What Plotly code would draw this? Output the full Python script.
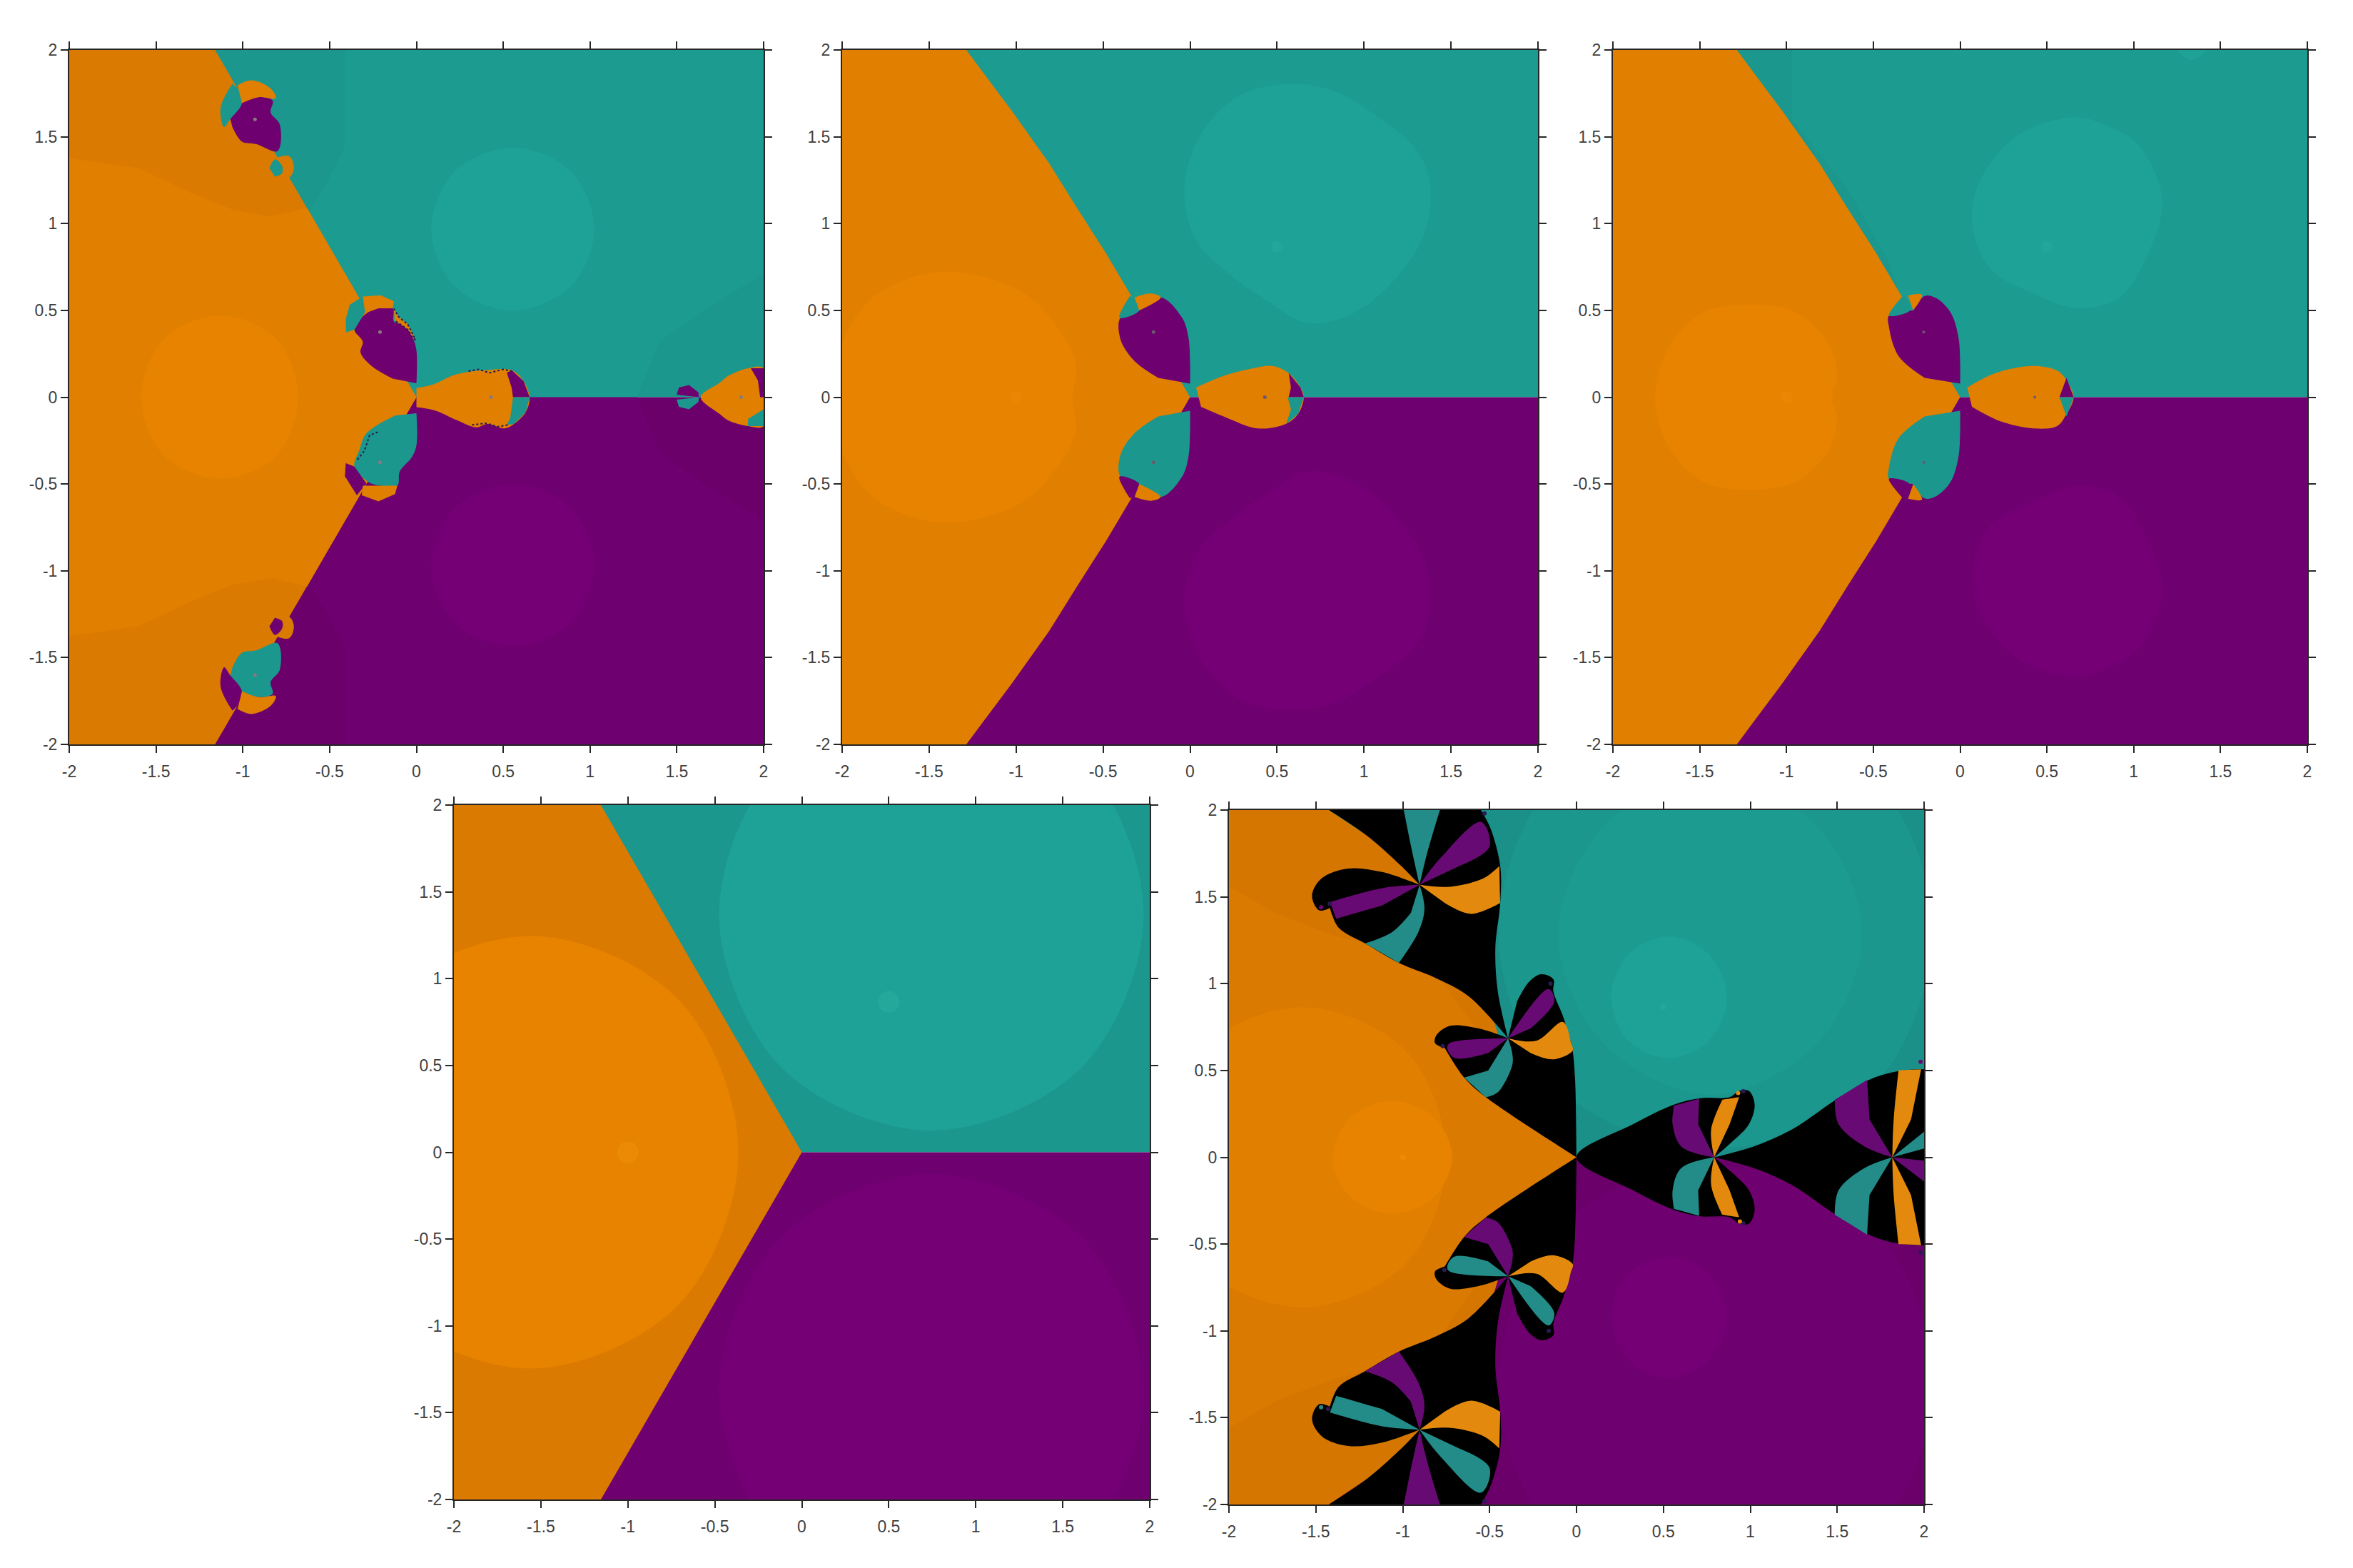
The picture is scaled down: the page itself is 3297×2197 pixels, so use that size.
import plotly.graph_objects as go

W, H = 3297, 2197
# pixel boxes of the five panels: left, right, top, bottom
boxes = [(97, 1070, 70, 1043), (1180, 2155, 70, 1043), (2260, 3233, 70, 1043),
         (636, 1611, 1128, 2101), (1722, 2696, 1135, 2108)]
tick_vals = [-2, -1.5, -1, -0.5, 0, 0.5, 1, 1.5, 2]
tick_text = ["-2", "-1.5", "-1", "-0.5", "0", "0.5", "1", "1.5", "2"]

ORANGE_X = "#D47600"
ORANGE_D = "#DB7A00"
ORANGE_M = "#E07F00"
ORANGE_L = "#E88300"
TEAL_D = "#1A9088"
TEAL_B = "#1B978D"
TEAL_M = "#1C9B91"
TEAL_L = "#1EA298"
PURPLE_D = "#6B006B"
PURPLE_M = "#6F006F"
PURPLE_L = "#750076"
PETAL_TEAL = "#238B88"
PETAL_PURPLE = "#680A74"
PETAL_ORANGE = "#E38A0E"
DARK = "#2A1A50"

upper_half = ([-2, 2, 2, -2], [0, 0, 2, 2])
lower_half = ([-2, 2, 2, -2], [0, 0, -2, -2])

# panel 1
p1_orange = ([-2, -1.16, -0.346, 0], [2, 2, 0.6, 0.0])
p1_orange_mid = ([-2, -1.6, -1.33, -1.06, -0.84, -0.63, 0], [1.376, 1.32, 1.19, 1.08, 1.04, 1.09, 0])
p1_orange_disc = ([-1.587, -1.45, -1.13, -0.81, -0.68], [0, 0.34, 0.47, 0.34, 0])
p1_teal_mid = ([-0.41, 2, 2, 1.67, 1.4, 1.27, 0, -0.62, -0.52, -0.41],
               [2, 2, 0.71, 0.51, 0.32, 0, 0, 1.07, 1.23, 1.45])
p1_teal_disc = ([0.085, 0.22, 0.555, 0.89, 1.025, 0.89, 0.555, 0.22],
                [0.97, 1.3, 1.437, 1.3, 0.97, 0.64, 0.5, 0.64])
p1_bulb_purple = ([0, 0, -0.02, -0.048, -0.096, -0.13, -0.137, -0.219, -0.295, -0.357, -0.309, -0.322, -0.261, -0.137],
                  [0.08, 0.27, 0.34, 0.388, 0.422, 0.436, 0.512, 0.512, 0.477, 0.388, 0.32, 0.258, 0.182, 0.107])
p1_bulb_teal_patch = ([-0.407, -0.384, -0.309, -0.295, -0.357, -0.405], [0.45, 0.532, 0.58, 0.491, 0.388, 0.374])
p1_bulb_cap = ([-0.309, -0.206, -0.13, -0.137, -0.219, -0.295], [0.58, 0.587, 0.553, 0.512, 0.512, 0.484])
p1_bulb_jag = ([-0.13, -0.1, -0.05, -0.005, -0.02, -0.048, -0.096, -0.125], [0.51, 0.46, 0.42, 0.33, 0.34, 0.388, 0.422, 0.44])
p1_low_teal = ([0, 0, -0.027, -0.096, -0.11, -0.206, -0.274, -0.357, -0.329, -0.288, -0.123],
               [-0.092, -0.277, -0.346, -0.428, -0.51, -0.51, -0.49, -0.40, -0.305, -0.209, -0.106])
p1_low_purple = ([-0.407, -0.412, -0.343, -0.288, -0.357], [-0.38, -0.455, -0.565, -0.497, -0.40])
p1_low_cap = ([-0.309, -0.11, -0.123, -0.219, -0.315], [-0.51, -0.51, -0.558, -0.6, -0.565])
p1_lobe = ([0, 0.096, 0.219, 0.315, 0.398, 0.549, 0.617, 0.652, 0.63, 0.562, 0.508, 0.41, 0.343, 0.233, 0.11, 0],
           [0.052, 0.073, 0.128, 0.148, 0.155, 0.155, 0.093, 0, -0.085, -0.154, -0.18, -0.154, -0.174, -0.133, -0.078, -0.058])
p1_lobe_purple = ([0.556, 0.652, 0.617, 0.549, 0.521, 0.549], [0, 0, 0.093, 0.155, 0.141, 0.052])
p1_lobe_teal = ([0.556, 0.652, 0.63, 0.562, 0.52, 0.54, 0.55], [0, 0, -0.085, -0.154, -0.16, -0.12, -0.05])
p1_top_purple = ([-1.074, -1.005, -0.91, -0.828, -0.84, -0.787, -0.80, -0.924, -1.005, -1.06],
                 [1.611, 1.694, 1.728, 1.708, 1.64, 1.57, 1.417, 1.458, 1.472, 1.556])
p1_top_teal = ([-1.06, -1.128, -1.108, -1.074, -1.005, -1.03], [1.806, 1.667, 1.556, 1.6, 1.694, 1.778])
p1_top_cap = ([-1.03, -0.95, -0.84, -0.81, -0.91, -1.005], [1.797, 1.825, 1.778, 1.722, 1.728, 1.694])
p1_small_cap = ([-0.815, -0.733, -0.706, -0.733, -0.80], [1.375, 1.389, 1.32, 1.264, 1.264])
p1_small_dark = ([-0.847, -0.815, -0.774, -0.774, -0.815], [1.32, 1.37, 1.333, 1.29, 1.27])
p1_far_top = ([1.499, 1.512, 1.57, 1.624, 1.627], [0.014, 0.055, 0.07, 0.028, 0])
p1_far_low = ([1.499, 1.512, 1.57, 1.624, 1.627], [-0.014, -0.055, -0.07, -0.028, 0])
p1_far_lobe = ([1.638, 1.747, 1.80, 1.91, 2, 2, 1.91, 1.80, 1.747, 1.638],
               [0, 0.083, 0.125, 0.167, 0.167, -0.167, -0.167, -0.136, -0.097, 0])
p1_far_purple = ([1.926, 2, 2, 1.98, 1.967], [0.167, 0.167, 0, 0, 0.097])
p1_far_teal = ([1.91, 2, 2, 1.91], [-0.125, -0.07, -0.167, -0.167])
p1_jag_a = ([0.3, 0.36, 0.42, 0.5, 0.55], [0.15, 0.16, 0.14, 0.16, 0.15])
p1_jag_b = ([-0.34, -0.3, -0.27, -0.22], [-0.36, -0.31, -0.22, -0.2])
p1_jag_c = ([0.32, 0.4, 0.47, 0.53], [-0.16, -0.15, -0.17, -0.16])
p1_dots_x = [-0.93, -0.21, 0.43, 1.87, -0.21, -0.93]
p1_dots_y = [1.6, 0.375, 0, 0, -0.375, -1.6]

# panel 2
p2_orange = ([-2, -1.286, -1.16, -1.027, -0.81, -0.65, -0.484, -0.346, 0],
             [2, 2, 1.83, 1.653, 1.347, 1.09, 0.83, 0.597, 0])
p2_orange_disc = ([-2.1, -2, -1.845, -1.627, -1.354, -0.973, -0.782, -0.66, -0.673],
                  [0, 0.32, 0.556, 0.68, 0.722, 0.611, 0.43, 0.208, 0])
p2_teal_disc = ([0.58, 0.28, 0.063, -0.033, 0.035, 0.226, 0.444, 0.662, 0.88, 1.098, 1.316, 1.384, 1.316, 1.044, 0.826],
                [1.806, 1.736, 1.514, 1.208, 0.903, 0.708, 0.556, 0.43, 0.458, 0.597, 0.875, 1.153, 1.403, 1.639, 1.764])
p2_bulb = ([0, 0, -0.01, -0.046, -0.169, -0.292, -0.40, -0.40, -0.319, -0.183], [0.078, 0.2, 0.347, 0.458, 0.575, 0.5, 0.458, 0.333, 0.208, 0.111])
p2_patch = ([-0.346, -0.406, -0.292, -0.319], [0.583, 0.458, 0.5, 0.569])
p2_cap = ([-0.319, -0.223, -0.169, -0.292], [0.575, 0.597, 0.575, 0.5])
p2_lobe = ([0.035, 0.2, 0.362, 0.471, 0.567, 0.635, 0.654, 0.621, 0.553, 0.39, 0.226, 0.063],
           [0.056, 0.125, 0.167, 0.18, 0.139, 0.056, 0, -0.097, -0.153, -0.18, -0.125, -0.056])
p2_lobe_purple = ([0.567, 0.654, 0.635, 0.567, 0.58], [0, 0, 0.056, 0.139, 0.056])
p2_lobe_teal = ([0.561, 0.654, 0.621, 0.553, 0.58], [0, 0, -0.097, -0.153, -0.07])
p2_dots_x = [-0.21, 0.43, -0.21]
p2_dots_y = [0.375, 0, -0.375]

# panel 3
p3_teal_edge = ([-1.29, -0.97, -0.97, -0.65, -0.42, -0.346], [2, 2, 1.6, 1.2, 0.8, 0.597])
p3_orange_disc = ([-1.758, -1.676, -1.485, -1.226, -0.94, -0.749, -0.708, -0.736], [0, 0.292, 0.486, 0.533, 0.486, 0.292, 0.125, 0])
p3_teal_disc = ([0.668, 0.34, 0.123, 0.068, 0.177, 0.422, 0.668, 0.913, 1.104, 1.163, 1.022, 0.831],
                [1.611, 1.514, 1.264, 1.014, 0.736, 0.597, 0.514, 0.569, 0.875, 1.153, 1.458, 1.569])
p3_bulb = ([0, 0, -0.01, -0.054, -0.136, -0.204, -0.272, -0.272, -0.409, -0.409, -0.354, -0.204],
           [0.078, 0.2, 0.347, 0.486, 0.569, 0.583, 0.5, 0.5, 0.472, 0.4, 0.236, 0.111])
p3_patch = ([-0.33, -0.41, -0.29, -0.31], [0.583, 0.47, 0.5, 0.56])
p3_cap = ([-0.30, -0.22, -0.27], [0.585, 0.59, 0.5])
p3_lobe = ([0.041, 0.204, 0.422, 0.559, 0.613, 0.654, 0.613, 0.559, 0.422, 0.232, 0.068],
           [0.056, 0.139, 0.18, 0.153, 0.097, 0, -0.097, -0.167, -0.18, -0.139, -0.056])
p3_lobe_purple = ([0.572, 0.654, 0.613], [0, 0, 0.111])
p3_lobe_teal = ([0.572, 0.654, 0.613], [0, 0, -0.111])
p3_spot = ([1.25, 1.33, 1.42], [2.0, 1.94, 2.0])

# panel 4
p4_orange = ([-2, -1.155, 0], [2, 2, 0])
p4_orange_disc = ([-2.76, -2.41, -1.56, -0.71, -0.365], [0, 0.88, 1.246, 0.88, 0])
p4_teal_disc = ([-0.475, -0.12, 0.745, 1.61, 1.965, 1.61, 0.745, -0.12],
                [1.37, 0.49, 0.125, 0.49, 1.37, 2.25, 2.615, 2.25])

# panel 5
p5_orange = ([-2, -1.425, -1.2, -1.0, -0.9, -0.6, -0.45, -0.25, 0], [2, 2, 1.85, 1.68, 1.57, 1.2, 0.7, 0.4, 0])
p5_orange_mid = ([-2, -1.72, -1.4, -1.217, -0.8, -0.55, -0.25, 0], [1.56, 1.4, 1.28, 1.232, 1.05, 0.7, 0.4, 0])
p5_orange_disc = ([-2.43, -2.18, -1.58, -0.98, -0.75], [0, 0.61, 0.864, 0.61, 0])
p5_orange_core = ([-1.405, -1.3, -1.06, -0.82, -0.715], [0, 0.23, 0.326, 0.23, 0])
p5_teal_wide = ([-0.45, -0.1, 0.8, 1.7, 2.05, 1.7, 0.8, -0.1], [1.3, 0.4, 0.05, 0.4, 1.3, 2.2, 2.55, 2.2])
p5_teal_big = ([-0.105, 0.15, 0.77, 1.39, 1.644, 1.39, 0.77, 0.15], [1.28, 0.66, 0.36, 0.66, 1.28, 1.9, 2.2, 1.9])
p5_teal_core = ([0.2, 0.3, 0.53, 0.76, 0.867, 0.76, 0.53, 0.3], [0.92, 1.17, 1.272, 1.17, 0.92, 0.67, 0.572, 0.67])
# repeated points keep the sharp nodes when the outline is smoothed
p5_black_a = ([-1.425, -1.203, -1.008, -0.903, -0.903, -1.119, -1.314, -1.467, -1.522, -1.481, -1.419, -1.419, -1.369, -1.217, -1.022,
               -0.814, -0.619, -0.394, -0.394, -0.453, -0.467, -0.439, -0.439, -0.494, -0.55],
              [2, 1.85, 1.677, 1.569, 1.569, 1.643, 1.663, 1.606, 1.507, 1.422, 1.436, 1.436, 1.323, 1.232, 1.119,
               1.034, 0.926, 0.686, 0.686, 0.955, 1.21, 1.465, 1.677, 1.892, 2])
p5_black_b = ([-0.394, -0.564, -0.731, -0.808, -0.814, -0.758, -0.758, -0.647, -0.522, 0, 0, -0.008, -0.022, -0.031, -0.078, -0.133,
               -0.133, -0.203, -0.272, -0.342],
              [0.686, 0.742, 0.756, 0.70, 0.657, 0.629, 0.629, 0.459, 0.346, 0, 0, 0.445, 0.615, 0.657, 0.813, 0.955,
               1.025, 1.054, 1.011, 0.898])
p5_black_right = ([0, 0.325, 0.561, 0.714, 0.881, 0.936, 0.992, 1.025, 0.992, 0.881, 0.792, 0.792, 1.019, 1.242, 1.492, 1.714, 1.881, 1.983, 2, 2],
                  [0, 0.19, 0.303, 0.34, 0.346, 0.382, 0.382, 0.303, 0.19, 0.076, 0, 0, 0.062, 0.161, 0.331, 0.459, 0.501, 0.507, 0.507, 0.507])
f1_top = ([-0.994, -0.95, -0.903, -0.903, -0.86, -0.786], [2, 1.78, 1.569, 1.569, 1.75, 2])
f1_streak = ([-0.903, -0.786, -0.55, -0.5, -0.675], [1.569, 1.72, 1.932, 1.79, 1.677])
f1_right = ([-0.903, -0.73, -0.536, -0.444, -0.444, -0.439, -0.439, -0.606, -0.758], [1.569, 1.558, 1.606, 1.677, 1.677, 1.465, 1.465, 1.402, 1.465])
f1_left = ([-0.903, -1.119, -1.419, -1.419, -1.383, -1.383, -1.119], [1.569, 1.55, 1.47, 1.47, 1.374, 1.374, 1.45])
f1_low = ([-0.903, -0.875, -0.911, -1.022, -1.022, -1.217, -1.217, -1.064, -0.953], [1.569, 1.431, 1.295, 1.119, 1.119, 1.232, 1.232, 1.295, 1.408])
f2_left = ([-0.394, -0.731, -0.744, -0.703, -0.508], [0.686, 0.657, 0.629, 0.572, 0.6])
f2_top = ([-0.394, -0.161, -0.128, -0.264], [0.686, 0.969, 0.898, 0.742])
f2_right = ([-0.394, -0.23, -0.078, -0.031, -0.022, -0.136, -0.264], [0.686, 0.671, 0.779, 0.657, 0.615, 0.564, 0.6])
f2_low = ([-0.394, -0.37, -0.37, -0.453, -0.522, -0.522, -0.647, -0.647, -0.508], [0.686, 0.6, 0.53, 0.374, 0.346, 0.346, 0.459, 0.459, 0.5])
f3_purple = ([0.792, 0.603, 0.553, 0.561, 0.561, 0.706, 0.706, 0.7], [0, 0.062, 0.19, 0.297, 0.297, 0.337, 0.337, 0.19])
f3_orange = ([0.792, 0.775, 0.839, 0.839, 0.936, 0.936, 0.881], [0, 0.161, 0.331, 0.331, 0.346, 0.346, 0.19])
f4_purple = ([1.817, 1.658, 1.508, 1.486, 1.486, 1.672, 1.672, 1.686], [0, 0.062, 0.19, 0.331, 0.331, 0.445, 0.445, 0.218])
f4_orange = ([1.817, 1.825, 1.853, 1.853, 1.983, 1.983, 1.925], [0, 0.218, 0.501, 0.501, 0.507, 0.507, 0.218])
f4_teal = ([1.817, 2, 2], [0, 0.147, 0.05])
f4_purple_right = ([1.817, 2, 2], [0, -0.02, -0.14])
p5_tip_x = [-1.47, -1.42, -0.53, -0.77, -0.15, 0.96, 0.93, 1.98, -1.47, -1.43, -0.53, -0.76, -0.16, 0.96, 0.94, 1.98]
p5_tip_y = [1.44, 1.46, 1.98, 0.64, 1.0, 0.38, 0.37, 0.55, -1.44, -1.45, -1.98, -0.65, -1.0, -0.38, -0.37, -0.55]
p5_tip_c = [PETAL_PURPLE, DARK, DARK, DARK, DARK, DARK, PETAL_ORANGE, PETAL_PURPLE,
            PETAL_TEAL, DARK, DARK, DARK, DARK, DARK, PETAL_ORANGE, DARK]


def flip(shape):
    return shape[0], [-v for v in shape[1]]


def closed(shape):
    # upper half outline closed through its reflection in the x axis
    return shape[0] + shape[0][::-1], shape[1] + [-v for v in shape[1][::-1]]


def loop(shape):
    # first point repeated so a smoothed outline closes without a corner
    return shape[0] + shape[0][:1], shape[1] + shape[1][:1]


def ring(shape):
    # same for a half disc whose two ends lie on the x axis
    xs = shape[0] + shape[0][-2:0:-1]
    ys = shape[1] + [-v for v in shape[1][-2:0:-1]]
    return loop((xs, ys))


fig = go.Figure()


def poly(n, shape, color, smooth=False):
    fig.add_trace(go.Scatter(
        x=shape[0], y=shape[1], xaxis=f"x{n}", yaxis=f"y{n}", mode="lines", fill="toself",
        fillcolor=color, line=dict(width=0, color=color, shape="spline" if smooth else "linear", simplify=False),
        hoverinfo="skip", showlegend=False))


def jag(n, shape, color=DARK, width=2):
    fig.add_trace(go.Scatter(
        x=shape[0], y=shape[1], xaxis=f"x{n}", yaxis=f"y{n}", mode="lines",
        line=dict(width=width, color=color, dash="dot"), hoverinfo="skip", showlegend=False))


def dots(n, xs, ys, color, size):
    fig.add_trace(go.Scatter(
        x=xs, y=ys, xaxis=f"x{n}", yaxis=f"y{n}", mode="markers",
        marker=dict(size=size, color=color, line=dict(width=0)), hoverinfo="skip", showlegend=False))


def bulbs(n, bulb, patch, cap):
    poly(n, bulb, PURPLE_M, True)
    poly(n, patch, TEAL_B, True)
    poly(n, cap, ORANGE_M, True)
    poly(n, flip(bulb), TEAL_B, True)
    poly(n, flip(patch), PURPLE_M, True)
    poly(n, flip(cap), ORANGE_M, True)


# panel 1
poly(1, upper_half, TEAL_B)
poly(1, lower_half, PURPLE_D)
poly(1, p1_teal_mid, TEAL_M)
poly(1, flip(p1_teal_mid), PURPLE_M)
poly(1, loop(p1_teal_disc), TEAL_L, True)
poly(1, loop(flip(p1_teal_disc)), PURPLE_L, True)
poly(1, closed(p1_orange), ORANGE_D)
poly(1, closed(p1_orange_mid), ORANGE_M)
poly(1, ring(p1_orange_disc), ORANGE_L, True)
poly(1, p1_lobe, ORANGE_M, True)
poly(1, p1_lobe_purple, PURPLE_M)
poly(1, p1_lobe_teal, TEAL_B)
poly(1, p1_bulb_purple, PURPLE_M, True)
poly(1, p1_bulb_teal_patch, TEAL_B)
poly(1, p1_bulb_cap, ORANGE_M)
poly(1, p1_bulb_jag, ORANGE_M)
poly(1, p1_low_teal, TEAL_B, True)
poly(1, p1_low_purple, PURPLE_M)
poly(1, p1_low_cap, ORANGE_M)
bulbs(1, p1_top_purple, p1_top_teal, p1_top_cap)
poly(1, p1_small_cap, ORANGE_D, True)
poly(1, p1_small_dark, TEAL_B, True)
poly(1, flip(p1_small_cap), ORANGE_D, True)
poly(1, flip(p1_small_dark), PURPLE_M, True)
poly(1, p1_far_top, PURPLE_M)
poly(1, p1_far_low, TEAL_B)
poly(1, p1_far_lobe, ORANGE_M, True)
poly(1, p1_far_purple, PURPLE_M)
poly(1, p1_far_teal, TEAL_B)
jag(1, p1_jag_a)
jag(1, p1_jag_b)
jag(1, p1_jag_c)
jag(1, p1_bulb_jag)
dots(1, p1_dots_x, p1_dots_y, "#8A7A80", 5)

# panels 2 and 3
poly(2, upper_half, TEAL_M)
poly(2, lower_half, PURPLE_M)
poly(2, loop(p2_teal_disc), TEAL_L, True)
poly(2, loop(flip(p2_teal_disc)), PURPLE_L, True)
poly(2, closed(p2_orange), ORANGE_M)
poly(2, ring(p2_orange_disc), ORANGE_L, True)
poly(2, p2_lobe, ORANGE_M, True)
poly(2, p2_lobe_purple, PURPLE_M)
poly(2, p2_lobe_teal, TEAL_B)
bulbs(2, p2_bulb, p2_patch, p2_cap)
dots(2, p2_dots_x, p2_dots_y, "#6A5A70", 5)
dots(2, [-1], [0], "#EB8604", 16)
dots(2, [0.5], [0.866], "#22A69B", 16)

poly(3, upper_half, TEAL_M)
poly(3, lower_half, PURPLE_M)
poly(3, p3_teal_edge, TEAL_B)
poly(3, loop(p3_teal_disc), TEAL_L, True)
poly(3, loop(flip(p3_teal_disc)), PURPLE_L, True)
poly(3, p3_spot, TEAL_L, True)
poly(3, closed(p2_orange), ORANGE_M)
poly(3, ring(p3_orange_disc), ORANGE_L, True)
poly(3, p3_lobe, ORANGE_M, True)
poly(3, p3_lobe_purple, PURPLE_M)
poly(3, p3_lobe_teal, TEAL_B)
bulbs(3, p3_bulb, p3_patch, p3_cap)
dots(3, p2_dots_x, p2_dots_y, "#6A5A70", 4)
dots(3, [-1], [0], "#EB8604", 16)
dots(3, [0.5], [0.866], "#22A69B", 16)

# panel 4
poly(4, upper_half, TEAL_B)
poly(4, lower_half, PURPLE_M)
poly(4, loop(p4_teal_disc), TEAL_L, True)
poly(4, loop(flip(p4_teal_disc)), PURPLE_L, True)
poly(4, closed(p4_orange), ORANGE_D)
poly(4, ring(p4_orange_disc), ORANGE_L, True)
dots(4, [-1], [0], "#EB8A05", 30)
dots(4, [0.5], [0.866], "#25A89C", 30)

# panel 5
poly(5, upper_half, TEAL_D)
poly(5, lower_half, PURPLE_D)
poly(5, loop(p5_teal_wide), TEAL_B, True)
poly(5, loop(flip(p5_teal_wide)), PURPLE_M, True)
poly(5, loop(p5_teal_big), TEAL_M, True)
poly(5, loop(p5_teal_core), TEAL_L, True)
poly(5, loop(flip(p5_teal_core)), PURPLE_L, True)
poly(5, closed(p5_orange), ORANGE_X)
poly(5, closed(p5_orange_mid), ORANGE_D)
poly(5, ring(p5_orange_disc), ORANGE_M, True)
poly(5, ring(p5_orange_core), ORANGE_L, True)
for black in (p5_black_a, p5_black_b):
    poly(5, black, "#000000", True)
    poly(5, flip(black), "#000000", True)
poly(5, closed(p5_black_right), "#000000", True)
for top_colour, streak_colour, swap in ((PETAL_TEAL, PETAL_PURPLE, False), (PETAL_PURPLE, PETAL_TEAL, True)):
    side = flip if swap else (lambda s: s)
    poly(5, side(f1_top), top_colour, True)
    poly(5, side(f1_streak), streak_colour, True)
    poly(5, side(f1_right), PETAL_ORANGE, True)
    poly(5, side(f1_left), streak_colour, True)
    poly(5, side(f1_low), top_colour, True)
    poly(5, side(f2_left), streak_colour, True)
    poly(5, side(f2_top), streak_colour, True)
    poly(5, side(f2_right), PETAL_ORANGE, True)
    poly(5, side(f2_low), top_colour, True)
    poly(5, side(f3_purple), streak_colour, True)
    poly(5, side(f3_orange), PETAL_ORANGE, True)
    poly(5, side(f4_purple), streak_colour, True)
    poly(5, side(f4_orange), PETAL_ORANGE, True)
poly(5, f4_teal, PETAL_TEAL)
poly(5, f4_purple_right, PETAL_PURPLE)
dots(5, p5_tip_x, p5_tip_y, p5_tip_c, 6)
dots(5, [-1], [0], "#EE8A05", 8)
dots(5, [0.5], [0.866], "#25A89C", 8)

axis = dict(range=[-2, 2], tickmode="array", tickvals=tick_vals, ticktext=tick_text, ticks="outside",
            ticklen=10, tickwidth=2, tickcolor="#262626", showline=True, linewidth=2, linecolor="#262626",
            mirror="ticks", showgrid=False, zeroline=False,
            tickfont=dict(family="Liberation Sans", size=23, color="#404040"))
layout = {}
for i, (left, right, top, bottom) in enumerate(boxes, start=1):
    layout[f"xaxis{i}"] = dict(axis, domain=[left / W, right / W], anchor=f"y{i}", ticklabelstandoff=6)
    layout[f"yaxis{i}"] = dict(axis, domain=[1 - bottom / H, 1 - top / H], anchor=f"x{i}")
fig.update_layout(width=W, height=H, margin=dict(l=0, r=0, t=0, b=0, autoexpand=False), paper_bgcolor="white",
                  plot_bgcolor="white", showlegend=False, **layout)

fig.write_html("out.html", post_script="document.body.style.margin = '0';", config={"displayModeBar": False})
